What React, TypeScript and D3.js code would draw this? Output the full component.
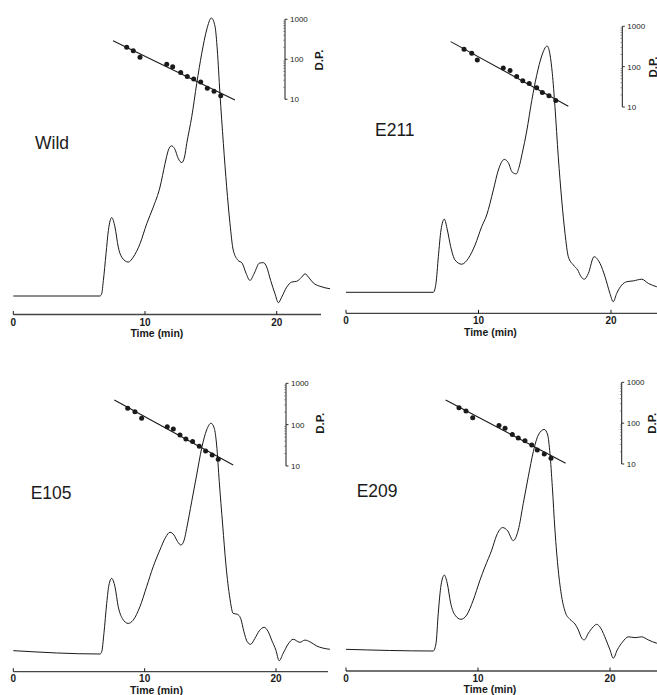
import React from 'react';
import * as d3 from 'd3';

// ---------- shared tick values ----------
const timeTicks = [0, 10, 20];
const dpMajorTicks = [10, 100, 1000];
const dpMinorTicks = [20, 30, 40, 50, 60, 70, 80, 90, 200, 300, 400, 500, 600, 700, 800, 900];
const panelNames = ['Wild', 'E211', 'E105', 'E209'];
const axisTitle = 'Time (min)';
const dpTitle = 'D.P.';

// ---------- chromatogram traces: [time (min), detector signal] ----------
const wildTrace: [number, number][] = [
  [0, 0], [6.58, 0], [6.71, 0.8], [6.84, 5.6], [7.04, 15.2], [7.22, 23.6], [7.47, 28.2], [7.72, 24.8],
  [7.97, 17.6], [8.23, 14.0], [8.73, 12.2], [9.11, 14.0], [9.62, 18.8], [10.13, 26.0], [10.63, 32.0],
  [11.14, 39.2], [11.52, 47.6], [11.77, 52.4], [12.0, 54.0], [12.25, 53.0], [12.53, 49.4], [12.79, 48.0],
  [13.0, 50.0], [13.17, 54.9], [13.55, 64.5], [13.93, 76.5], [14.31, 87.3], [14.68, 95.7], [15.04, 100],
  [15.32, 96.9], [15.49, 88.5], [15.69, 72.9], [15.95, 54.9], [16.2, 39.3], [16.45, 26.2], [16.7, 16.5],
  [17.05, 12.9], [17.38, 11.8], [17.67, 8.2], [17.97, 5.6], [18.3, 8.2], [18.68, 11.8], [18.99, 12.0],
  [19.24, 10.4], [19.54, 5.6], [19.87, 0.8], [20.13, -2.4], [20.38, -0.4], [20.76, 3.2], [21.14, 5.0],
  [21.52, 5.3], [21.9, 6.8], [22.15, 8.0], [22.41, 6.8], [22.78, 4.7], [23.29, 3.5], [24.05, 2.6],
];
const e211Trace: [number, number][] = [
  [0, 0], [6.59, 0], [6.79, 3.2], [6.97, 12.8], [7.17, 22.4], [7.42, 26.3], [7.65, 22.4], [7.9, 16.4],
  [8.23, 11.6], [8.73, 10.1], [9.23, 12.2], [9.74, 17.0], [10.24, 23.6], [10.62, 27.8], [11.12, 36.8],
  [11.5, 44.0], [11.95, 47.8], [12.25, 46.6], [12.55, 43.2], [12.85, 42.6], [13.06, 45.0], [13.3, 50.0],
  [13.64, 58.0], [14.02, 69.0], [14.39, 78.0], [14.77, 85.0], [15.18, 88.6], [15.4, 85.4], [15.57, 78.8],
  [15.77, 66.8], [16.02, 48.8], [16.28, 33.2], [16.53, 21.2], [16.78, 12.8], [17.16, 9.8], [17.49, 8.0],
  [17.74, 5.6], [17.99, 4.7], [18.29, 6.8], [18.72, 12.8], [19.17, 10.4], [19.55, 5.6], [19.92, -0.4],
  [20.17, -3.4], [20.43, -0.4], [20.81, 2.6], [21.18, 3.8], [21.68, 4.1], [22.32, 4.7], [22.82, 3.2],
  [23.45, 2.0], [24.0, 1.6],
];
const e105Trace: [number, number][] = [
  [0, 1.2], [6.6, 0], [6.73, 0.8], [6.9, 7.4], [7.11, 18.2], [7.28, 24.8], [7.49, 27.2], [7.74, 24.2],
  [7.99, 17.0], [8.3, 12.8], [8.75, 11.0], [9.13, 12.2], [9.64, 17.0], [10.15, 24.2], [10.65, 31.4],
  [11.16, 37.4], [11.6, 42.0], [11.93, 43.8], [12.23, 42.8], [12.51, 40.4], [12.76, 39.2], [13.01, 41.0],
  [13.2, 45.2], [13.58, 54.8], [13.96, 64.4], [14.34, 74.0], [14.72, 80.6], [15.05, 83.0], [15.3, 81.2],
  [15.48, 75.2], [15.68, 62.0], [15.94, 46.4], [16.19, 32.0], [16.49, 20.0], [16.74, 14.6], [17.05, 14.3],
  [17.31, 12.8], [17.56, 8.0], [17.81, 4.4], [18.07, 3.5], [18.39, 5.6], [18.72, 8.3], [19.1, 9.6],
  [19.41, 8.0], [19.67, 5.0], [19.99, 1.4], [20.24, -2.4], [20.55, 0.3], [20.93, 3.6], [21.31, 5.3],
  [21.82, 4.2], [22.2, 5.0], [22.58, 4.4], [23.09, 2.9], [23.59, 2.1], [24.1, 1.7],
];
const e209Trace: [number, number][] = [
  [0, 0.6], [6.61, 0], [6.82, 2.8], [6.99, 13.6], [7.2, 23.7], [7.45, 27.3], [7.67, 24.4], [7.93, 17.2],
  [8.26, 12.9], [8.71, 11.4], [9.14, 12.9], [9.64, 18.3], [10.15, 25.5], [10.53, 30.3], [11.04, 36.3],
  [11.42, 41.7], [11.87, 44.4], [12.25, 43.2], [12.67, 39.7], [13.05, 43.5], [13.43, 53.1], [13.81, 62.7],
  [14.19, 71.7], [14.57, 77.7], [15.02, 79.7], [15.28, 77.7], [15.45, 71.1], [15.63, 59.1], [15.83, 43.5],
  [16.08, 29.1], [16.34, 19.5], [16.64, 13.6], [16.97, 11.4], [17.35, 9.7], [17.6, 7.6], [17.86, 4.6],
  [18.05, 4.0], [18.36, 6.4], [18.73, 8.7], [18.99, 9.6], [19.3, 8.2], [19.7, 4.0], [20.0, 0.4],
  [20.25, -2.6], [20.55, 0.4], [20.96, 3.3], [21.39, 5.1], [21.89, 4.8], [22.39, 5.1], [22.9, 4.0],
  [23.54, 2.8], [24.0, 2.5],
];

// ---------- calibration standards (elution time, D.P.) ----------
const wildStdTime = [8.61, 9.11, 9.62, 11.65, 12.1, 12.71, 13.21, 13.7, 14.23, 14.73, 15.24, 15.75];
const wildStdDP = [200, 163, 112, 75, 65, 47, 37, 32, 27, 19, 16, 12.3];
const wildFitTime = [7.57, 16.83];
const wildFitDP = [290, 9.6];

const e211StdTime = [8.91, 9.49, 9.91, 11.87, 12.38, 12.88, 13.34, 13.83, 14.39, 14.82, 15.32, 15.83];
const e211StdDP = [270, 215, 147, 92, 80, 57, 45, 38, 30, 23, 19, 14.5];
const e211FitTime = [7.9, 16.78];
const e211FitDP = [417, 10.4];

const e105StdTime = [8.71, 9.26, 9.77, 11.72, 12.18, 12.69, 13.14, 13.65, 14.16, 14.64, 15.14, 15.6];
const e105StdDP = [248, 206, 143, 89, 78, 56, 45, 39, 30, 23, 18.5, 14.5];
const e105FitTime = [7.69, 16.74];
const e105FitDP = [395, 10.6];

const e209StdTime = [8.56, 9.09, 9.6, 11.59, 12.05, 12.6, 13.05, 13.56, 14.07, 14.49, 15.02, 15.53];
const e209StdDP = [239, 198, 136, 87, 75, 53, 43, 37, 29, 22, 17.6, 13.8];
const e209FitTime = [7.55, 16.64];
const e209FitDP = [369, 10.4];

const traces = [wildTrace, e211Trace, e105Trace, e209Trace];
const stdTimes = [wildStdTime, e211StdTime, e105StdTime, e209StdTime];
const stdDPs = [wildStdDP, e211StdDP, e105StdDP, e209StdDP];
const fitTimes = [wildFitTime, e211FitTime, e105FitTime, e209FitTime];
const fitDPs = [wildFitDP, e211FitDP, e105FitDP, e209FitDP];

// ---------- layout (pixel placement of each panel) ----------
type Layout = {
  x0: number; x20: number; base: number; axisY: number; axisStart: number; axisEnd: number;
  dpX: number; dp10: number; dp1000: number; dpTitleX: number; dpTitleY: number;
  labelX: number; labelY: number; tickDy: number; titleDy: number;
};
const layouts: Layout[] = [
  { x0: 13.3, x20: 276.7, base: 296, axisY: 314.5, axisStart: 13.3, axisEnd: 321, dpX: 285, dp10: 99.3, dp1000: 19.3, dpTitleX: 322.5, dpTitleY: 60, labelX: 35, labelY: 149, tickDy: 11, titleDy: 22.5 },
  { x0: 346, x20: 611, base: 292.3, axisY: 313.3, axisStart: 346, axisEnd: 660, dpX: 622.3, dp10: 107, dp1000: 26.3, dpTitleX: 656.5, dpTitleY: 67, labelX: 375, labelY: 136, tickDy: 11, titleDy: 22.5 },
  { x0: 13.3, x20: 276, base: 654, axisY: 671.7, axisStart: 13.3, axisEnd: 328, dpX: 286, dp10: 466, dp1000: 383.3, dpTitleX: 324, dpTitleY: 423.3, labelX: 30.7, labelY: 499, tickDy: 10.5, titleDy: 21.8 },
  { x0: 346, x20: 610, base: 651, axisY: 671, axisStart: 346, axisEnd: 660, dpX: 621.7, dp10: 464, dp1000: 382.3, dpTitleX: 655.5, dpTitleY: 423.3, labelX: 356.7, labelY: 497.3, tickDy: 10.5, titleDy: 21.8 },
];

const FONT = '"Liberation Sans", Arial, Helvetica, sans-serif';
const INK = '#1a1a1a';

function Panel({ idx }: { idx: number }) {
  const L = layouts[idx];
  const x = d3.scaleLinear().domain([0, 20]).range([L.x0, L.x20]);
  const y = d3.scaleLinear().domain([0, 100]).range([L.base, L.base - 278]);
  const dp = d3.scaleLog().domain([10, 1000]).range([L.dp10, L.dp1000]);

  const line = d3.line<[number, number]>()
    .x(d => x(d[0]))
    .y(d => y(d[1]))
    .curve(d3.curveMonotoneX);

  const fitT = fitTimes[idx];
  const fitD = fitDPs[idx];
  const fitLine = d3.line<number>()
    .x((_, i) => x(fitT[i]))
    .y((_, i) => dp(fitD[i]));

  return (
    <g>
      {/* chromatogram */}
      <path d={line(traces[idx]) || ''} fill="none" stroke={INK} strokeWidth={1} />

      {/* calibration fit and standards */}
      <path d={fitLine(fitT) || ''} fill="none" stroke={INK} strokeWidth={1.1} />
      {stdTimes[idx].map((t, i) => (
        <circle key={i} cx={x(t)} cy={dp(stdDPs[idx][i])} r={2.5} fill={INK} />
      ))}

      {/* D.P. axis */}
      <line x1={L.dpX} x2={L.dpX} y1={dp(1000)} y2={dp(10)} stroke={INK} strokeWidth={1} />
      {dpMinorTicks.map(v => (
        <line key={v} x1={L.dpX - 1.8} x2={L.dpX} y1={dp(v)} y2={dp(v)} stroke="#555" strokeWidth={0.6} />
      ))}
      {dpMajorTicks.map(v => (
        <g key={v}>
          <line x1={L.dpX} x2={L.dpX + 2.5} y1={dp(v)} y2={dp(v)} stroke={INK} strokeWidth={0.9} />
          <text x={L.dpX + 5} y={dp(v) + 3} fontSize={8} fontFamily={FONT} fill={INK}>{v}</text>
        </g>
      ))}
      <text
        transform={`translate(${L.dpTitleX},${L.dpTitleY}) rotate(-90)`}
        textAnchor="middle" fontSize={11.5} fontWeight="bold" fontFamily={FONT} fill={INK}
      >{dpTitle}</text>

      {/* time axis */}
      <line x1={L.axisStart} x2={L.axisEnd} y1={L.axisY} y2={L.axisY} stroke="#444" strokeWidth={1.3} />
      {timeTicks.map(t => (
        <g key={t}>
          <line x1={x(t)} x2={x(t)} y1={L.axisY} y2={L.axisY - 3.5} stroke={INK} strokeWidth={1} />
          <text x={x(t)} y={L.axisY + L.tickDy} textAnchor="middle" fontSize={10} fontWeight="bold" fontFamily={FONT} fill={INK}>{t}</text>
        </g>
      ))}
      <text x={x(10.9)} y={L.axisY + L.titleDy} textAnchor="middle" fontSize={10.5} fontWeight="bold" fontFamily={FONT} fill={INK}>{axisTitle}</text>

      {/* sample label */}
      <text x={L.labelX} y={L.labelY} fontSize={17.5} fontFamily={FONT} fill={INK}>{panelNames[idx]}</text>
    </g>
  );
}

export default function App() {
  return (
    <svg
      width={657}
      height={695}
      viewBox="0 0 657 695"
      style={{ position: 'absolute', left: 0, top: 0, background: '#fff' }}
    >
      <rect x={0} y={0} width={657} height={695} fill="#fff" />
      {panelNames.map((_, i) => <Panel key={i} idx={i} />)}
    </svg>
  );
}
